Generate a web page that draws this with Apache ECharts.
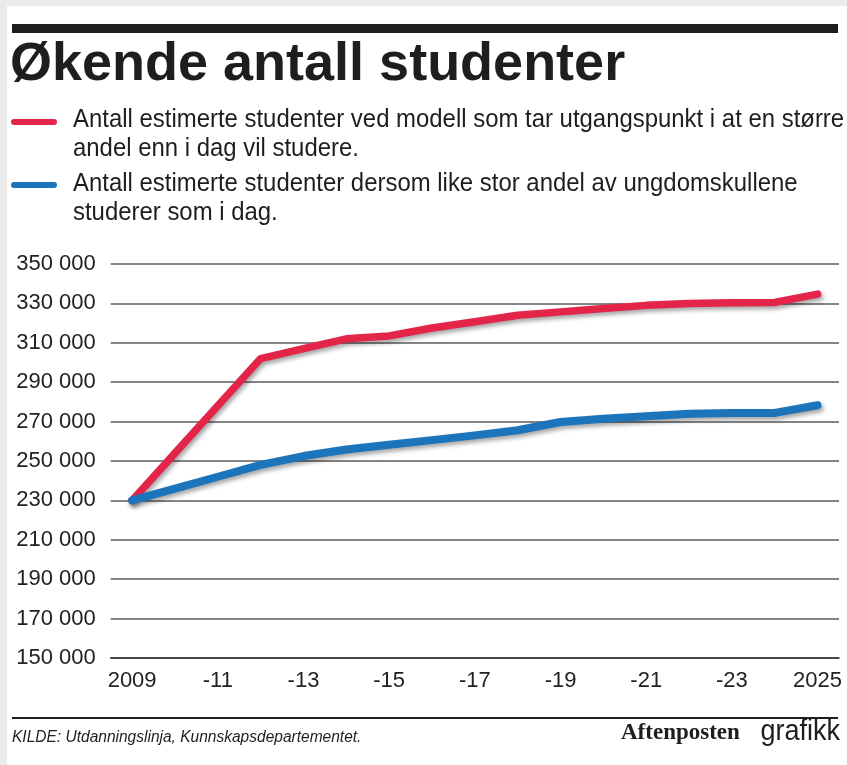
<!DOCTYPE html>
<html>
<head>
<meta charset="utf-8">
<script src="https://cdn.jsdelivr.net/npm/echarts@6/dist/echarts.min.js"></script>
<style>
	html, body { margin: 0; padding: 0; background: #ebebeb; }
	#chart { width: 847px; height: 765px; }
</style>
</head>
<body>
<div id="chart"></div>
<script>
// x-axis categories (years) and their printed labels
const years = ['2009', '2010', '2011', '2012', '2013', '2014', '2015', '2016', '2017',
	'2018', '2019', '2020', '2021', '2022', '2023', '2024', '2025'];
const yearLabels = ['2009', '-10', '-11', '-12', '-13', '-14', '-15', '-16', '-17',
	'-18', '-19', '-20', '-21', '-22', '-23', '-24', '2025'];

// estimated number of students
const higherShare = [230000, 254000, 278000, 302000, 307000, 312000, 313500, 317500, 320700,
	324000, 325700, 327400, 329000, 330000, 330300, 330500, 334700];
const sameShare = [230000, 236000, 242000, 248000, 252500, 255800, 258200, 260600, 263000,
	265600, 269800, 271500, 272700, 274000, 274400, 274400, 278300];

const title = 'Økende antall studenter';
const legendRed = ['Antall estimerte studenter ved modell som tar utgangspunkt i at en større', 'andel enn i dag vil studere.'];
const legendBlue = ['Antall estimerte studenter dersom like stor andel av ungdomskullene', 'studerer som i dag.'];
const source = 'KILDE: Utdanningslinja, Kunnskapsdepartementet.';

const RED = '#e4254a';
const BLUE = '#1c74bb';
const INK = '#1e1e1e';
const SANS = '"Liberation Sans", Arial, sans-serif';

const chart = echarts.init(document.getElementById('chart'));

const lineShadow = {
	shadowColor: 'rgba(0,0,0,0.35)',
	shadowBlur: 4,
	shadowOffsetX: 2,
	shadowOffsetY: 3,
};

function legendText(lines, y) {
	return lines.map((t, i) => ({
		type: 'text',
		x: 73,
		y: y + i * 29,
		scaleX: 0.92,
		style: { text: t, font: '26px ' + SANS, fill: INK },
	}));
}

const option = {
	backgroundColor: '#fff',
	animation: false,
	grid: {
		left: 110.7,
		right: 8,
		top: 264,
		bottom: 107,
	},
	xAxis: {
		type: 'category',
		data: yearLabels,
		boundaryGap: true,
		axisLine: { lineStyle: { color: '#333', width: 1.5 } },
		axisTick: { interval: 0, length: 16, lineStyle: { color: '#333', width: 1.5 } },
		axisLabel: {
			interval: 1,
			margin: 12,
			fontSize: 22,
			fontFamily: 'Liberation Sans',
			color: '#222',
		},
	},
	yAxis: {
		type: 'value',
		min: 150000,
		max: 350000,
		interval: 20000,
		axisLine: { show: false },
		axisTick: { show: false },
		axisLabel: {
			margin: 15,
			fontSize: 22,
			fontFamily: 'Liberation Sans',
			color: '#222',
			formatter: (v) => String(v).replace(/\B(?=(\d{3})+(?!\d))/g, ' '),
		},
		splitLine: { lineStyle: { color: '#858585', width: 2 } },
	},
	series: [
		{
			name: years.join(','),
			type: 'line',
			data: higherShare,
			symbol: 'none',
			z: 3,
			lineStyle: { color: RED, width: 7.5, cap: 'round', join: 'round', ...lineShadow },
		},
		{
			type: 'line',
			data: sameShare,
			symbol: 'none',
			z: 4,
			lineStyle: { color: BLUE, width: 8, cap: 'round', join: 'round', ...lineShadow },
		},
	],
	graphic: [
		{ type: 'rect', left: 0, top: 0, shape: { width: 847, height: 6 }, style: { fill: '#ebebeb' } },
		{ type: 'rect', left: 0, top: 0, shape: { width: 7, height: 765 }, style: { fill: '#ebebeb' } },
		{ type: 'rect', left: 12, top: 24, shape: { width: 826, height: 9 }, style: { fill: INK } },
		{
			type: 'text',
			x: 10,
			y: 38,
			style: { text: title, font: 'bold 54px ' + SANS, fill: INK },
		},
		{
			type: 'line',
			shape: { x1: 14, y1: 122, x2: 54, y2: 122 },
			style: { stroke: RED, lineWidth: 6, lineCap: 'round' },
		},
		{
			type: 'line',
			shape: { x1: 14, y1: 185, x2: 54, y2: 185 },
			style: { stroke: BLUE, lineWidth: 6, lineCap: 'round' },
		},
		...legendText(legendRed, 107),
		...legendText(legendBlue, 171),
		{
			type: 'line',
			shape: { x1: 12, y1: 718, x2: 838, y2: 718 },
			style: { stroke: INK, lineWidth: 2 },
		},
		{
			type: 'text',
			x: 12,
			y: 730,
			scaleX: 0.97,
			style: { text: source, font: 'italic 16px ' + SANS, fill: INK },
		},
		{
			type: 'text',
			x: 621,
			y: 722,
			style: { text: 'Aftenposten', font: 'bold 23px "Liberation Serif"', fill: INK },
		},
		{
			type: 'text',
			right: 7,
			top: 717,
			scaleX: 0.9,
			style: { text: 'grafikk', font: '30px ' + SANS, fill: INK },
		},
	],
};

chart.setOption(option);
</script>
</body>
</html>
